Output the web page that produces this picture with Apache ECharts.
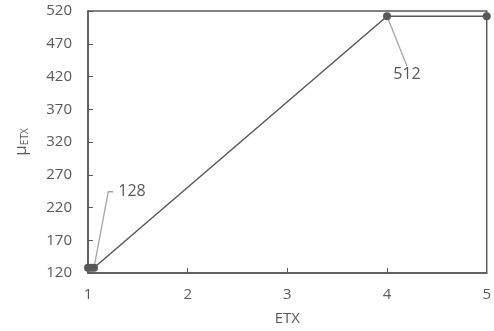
<!DOCTYPE html>
<html><head><meta charset="utf-8">
<script src="https://cdn.jsdelivr.net/npm/echarts@6/dist/echarts.min.js"></script>
<style>html,body{margin:0;padding:0;background:#fff}#c{width:494px;height:331px}</style>
</head><body><div id="c"></div>
<script>
const etx = [1, 1.03, 1.06, 4, 5];
const mu = [128, 128, 128, 512, 512];
const xTicks = [1, 2, 3, 4, 5];
const yTicks = [120, 170, 220, 270, 320, 370, 420, 470, 520];
const labelled = {2: '128', 3: '512'};

const col = '#595959';
const font = 'Open Sans';
const chart = echarts.init(document.getElementById('c'));
chart.setOption({
  animation: false,
  grid: {left: 88, right: 3, top: 11, bottom: 56, show: true, borderColor: col, borderWidth: 1.5, backgroundColor: 'transparent'},
  xAxis: {
    type: 'value', min: 1, max: 5,
    name: 'ETX', nameLocation: 'middle', nameGap: 38,
    nameTextStyle: {color: col, fontSize: 15, fontFamily: font},
    axisLine: {show: true, lineStyle: {color: col, width: 1.5}},
    axisTick: {show: true, inside: true, length: 5, customValues: xTicks, lineStyle: {color: col}},
    axisLabel: {color: col, fontSize: 15, fontFamily: font, margin: 14, customValues: xTicks},
    splitLine: {show: false}
  },
  yAxis: {
    type: 'value', min: 120, max: 520,
    name: 'μ{sub|ETX}', nameLocation: 'middle', nameGap: 58,
    nameTextStyle: {color: col, fontSize: 17, fontFamily: font,
      rich: {sub: {fontSize: 10, color: col, fontFamily: font, verticalAlign: 'bottom', padding: [7, 0, 0, 0]}}},
    axisLine: {show: true, lineStyle: {color: col, width: 1.5}},
    axisTick: {show: true, inside: true, length: 5, customValues: yTicks, lineStyle: {color: col}},
    axisLabel: {color: col, fontSize: 15, fontFamily: font, margin: 16, customValues: yTicks},
    splitLine: {show: false}
  },
  series: [{
    type: 'line',
    data: etx.map((x, i) => {
      const d = {value: [x, mu[i]]};
      if (i === 2) {
        d.label = {show: true, formatter: '{pad|}' + labelled[i] + '{tail|}',
          rich: {pad: {width: 10}, tail: {width: 60}}};
        d.labelLine = {show: true, length2: 5};
      } else if (i === 3) {
        d.label = {show: true, formatter: labelled[i]};
        d.labelLine = {show: true, length2: 0};
      } else d.label = {show: false};
      return d;
    }),
    symbol: 'circle', symbolSize: 8,
    itemStyle: {color: col},
    lineStyle: {color: col, width: 1.5},
    label: {color: col, fontSize: 16, fontFamily: font},
    labelLine: {show: true, lineStyle: {color: '#a6a6a6', width: 1.3}},
    labelLayout: function (p) {
      if (p.dataIndex === 2) return {dx: 63, dy: -59};
      if (p.dataIndex === 3) return {dx: 20, dy: 75};
      return {};
    }
  }]
});
</script></body></html>
